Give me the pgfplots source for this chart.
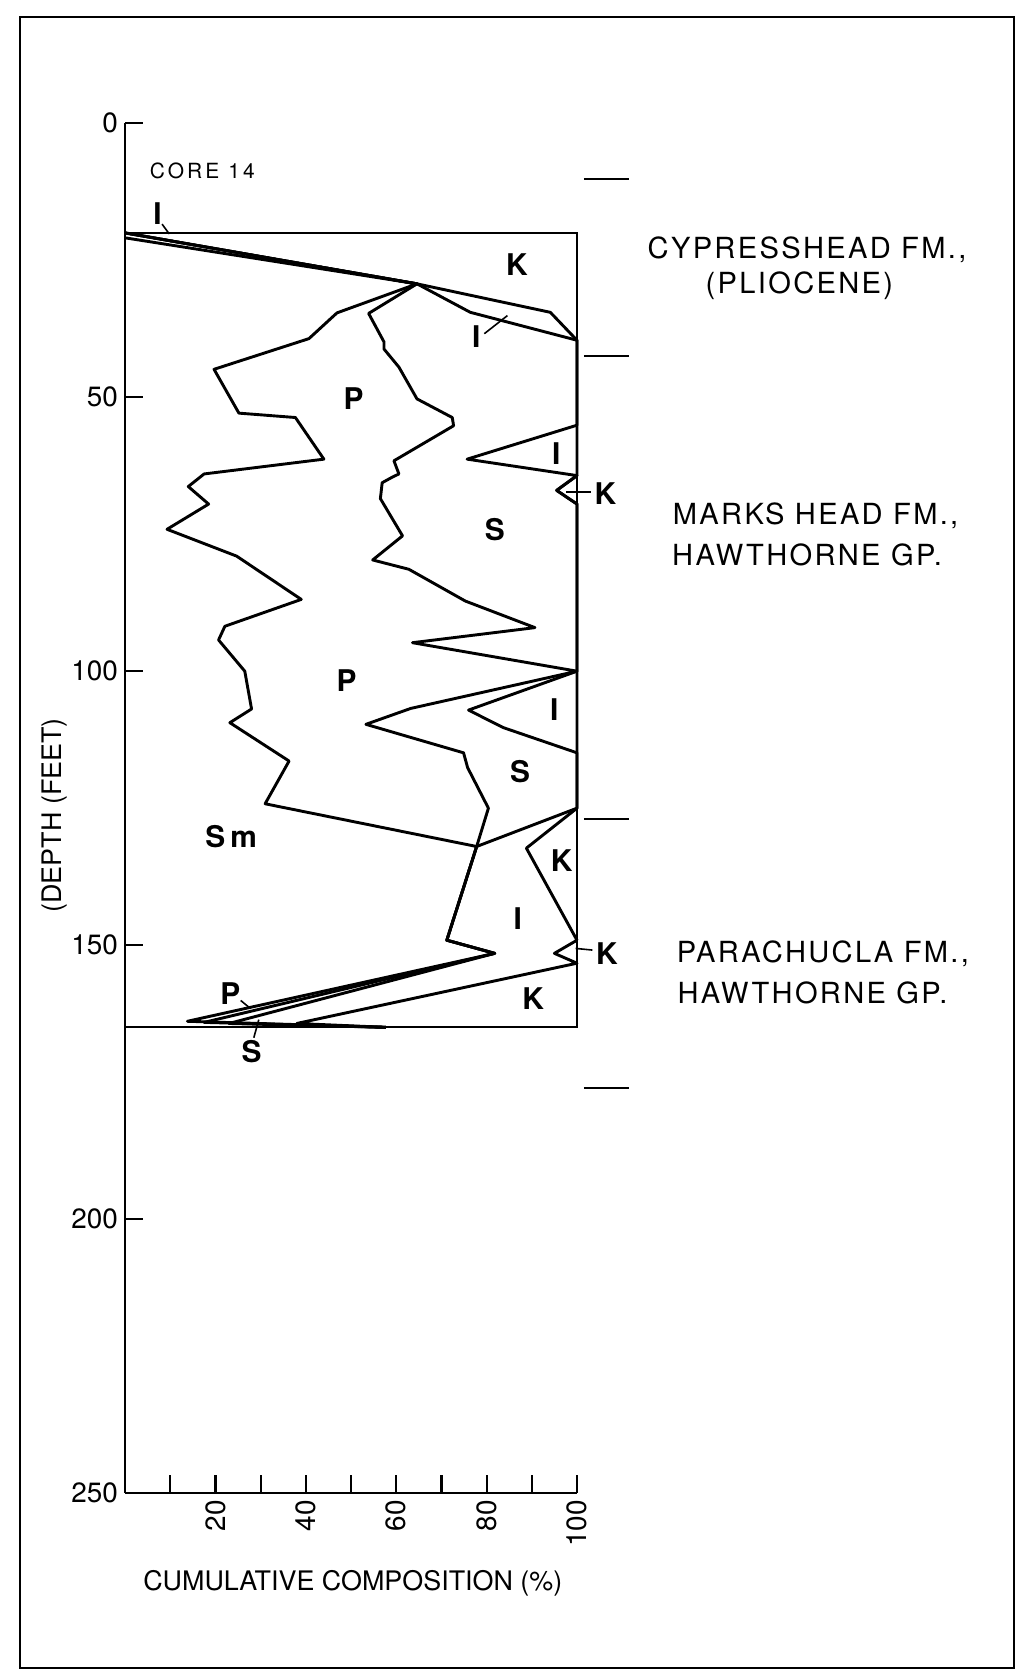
\documentclass[border=0pt]{standalone}
\usepackage{fontspec}
\setmainfont{TeX Gyre Heros}
\usepackage{pgfplots}
\pgfplotsset{compat=1.18}
\begin{document}
\begin{tikzpicture}
\path[use as bounding box] (-62.5bp,-89.5bp) rectangle (446bp,746.5bp);
\draw[line width=1.2bp] (-52.5bp,-87.5bp) rectangle (444.5bp,738bp);
\begin{axis}[
  at={(0,0)}, anchor=south west,
  width=226bp, height=684.85bp, scale only axis,
  xmin=0, xmax=100, ymin=0, ymax=250, y dir=reverse,
  axis x line=bottom, axis y line=left,
  axis line style={-, line width=1.2bp},
  clip=false,
  tick align=inside,
  major tick length=9bp,
  tick style={line width=1.1bp, black},
  xtick={10,20,...,100},
  xticklabels={,20,,40,,60,,80,,100},
  ytick={0,50,...,250},
  /pgf/number format/assume math mode=true,
  ticklabel style={font=\fontsize{14}{16}\selectfont},
  xticklabel style={rotate=90, anchor=east},
  bnd/.style={black, line width=1.45bp, line join=round, mark=none},
  thin/.style={black, line width=1.1bp, mark=none},
]
% box
\addplot[thin] coordinates {(0,20) (100,20) (100,165) (0,165)};
% Sm | P boundary
\addplot[bnd] coordinates {(0,20) (64.6,29.3) (46.9,34.6) (40.7,39.3) (19.7,44.9) (25.2,52.9) (37.7,53.7) (44.0,61.3) (17.5,64.0) (14.0,66.3) (18.5,69.5) (9.3,74.1) (24.7,79.0) (39.0,86.9) (22.1,91.8) (20.7,94.3) (26.5,100.0) (28.0,106.9) (23.2,109.4) (36.3,116.4) (31.0,124.2) (77.8,132.0) (71.2,149.1) (81.8,151.5) (13.8,163.9) (57.7,165)};
% P | S boundary
\addplot[bnd] coordinates {(0,20) (64.6,29.3) (53.9,34.7) (57.3,39.9) (57.3,41.2) (60.6,44.5) (64.6,50.3) (72.4,53.7) (72.7,55.2) (59.5,61.6) (60.6,64.0) (59.1,64.6) (56.9,65.6) (56.5,68.5) (61.4,75.3) (54.8,79.7) (62.8,81.4) (75.3,87.2) (90.7,92.05) (63.6,94.8) (100,100) (63.2,106.8) (53.3,109.7) (74.9,114.9) (75.8,117.6) (80.4,125.0) (77.8,132.0) (71.2,149.1) (81.8,151.5) (17.5,164.1) (57.7,165)};
% S | I boundary
\addplot[bnd] coordinates {(0,20.9) (64.6,29.3) (76.4,34.5) (100,39.6) (100,55.1) (75.7,61.3) (100,64.3) (95.5,67.0) (100,69.5) (100,100) (76.0,107.1) (83.7,110.3) (100,114.9) (100,125.0) (77.8,132.0) (71.2,149.1) (81.8,151.5) (23.0,164.3) (57.7,165)};
% I | K boundary
\addplot[bnd] coordinates {(0,20) (64.6,29.3) (94.1,34.5) (100,39.6) (100,64.3) (95.5,67.0) (100,69.5) (100,125.0) (88.8,132.3) (100,149.1) (95.0,151.5) (100,153.3) (38.0,164.3) (57.7,165)};
% formation boundary marks
\addplot[thin] coordinates {(101.5,10.2) (111.5,10.2)};
\addplot[thin] coordinates {(101.5,42.4) (111.5,42.4)};
\addplot[thin] coordinates {(101.5,127.0) (111.5,127.0)};
\addplot[thin] coordinates {(101.5,176.1) (111.5,176.1)};
% leaders
\draw[line width=0.8bp] (axis cs:8.2,18.4) -- (axis cs:9.8,20.2);
\draw[line width=0.8bp] (axis cs:79.5,38.4) -- (axis cs:84.6,35.1);
\draw[line width=0.8bp] (axis cs:97.6,67.3) -- (axis cs:103.2,67.3);
\draw[line width=0.8bp] (axis cs:99.7,150.6) -- (axis cs:103.4,150.9);
\draw[line width=0.8bp] (axis cs:25.6,160.1) -- (axis cs:27.8,161.6);
\draw[line width=0.8bp] (axis cs:28.5,166.9) -- (axis cs:29.6,163.6);
% labels in plot
\begin{scope}[every node/.style={font=\bfseries\fontsize{15}{17}\selectfont, inner sep=0pt}]
\node at (axis cs:7.2,16.5) {I};
\node at (axis cs:86.7,25.8) {K};
\node at (axis cs:77.7,39.0) {I};
\node at (axis cs:50.6,50.2) {P};
\node at (axis cs:95.4,60.3) {I};
\node at (axis cs:106.3,67.5) {K};
\node at (axis cs:81.8,74.1) {S};
\node at (axis cs:49.0,101.8) {P};
\node at (axis cs:95.0,107.1) {I};
\node at (axis cs:87.4,118.4) {S};
\node at (axis cs:23.5,130.1) {S\,m};
\node at (axis cs:96.6,134.6) {K};
\node at (axis cs:86.9,145.1) {I};
\node at (axis cs:106.6,151.5) {K};
\node at (axis cs:90.3,159.7) {K};
\node at (axis cs:23.3,158.9) {P};
\node at (axis cs:28.0,169.5) {S};
\end{scope}
\node[font=\fontsize{10.5}{12}\selectfont\addfontfeature{LetterSpace=15}, inner sep=0pt] at (axis cs:17.1,8.6) {CORE 14};
\begin{scope}[every node/.style={font=\fontsize{14.6}{16}\selectfont\addfontfeature{LetterSpace=8}, inner sep=0pt}]
\node at (axis cs:150.9,23.1) {CYPRESSHEAD FM.,};
\node at (axis cs:149.2,29.7) {(PLIOCENE)};
\node at (axis cs:152.8,71.6) {MARKS HEAD FM.,};
\node at (axis cs:150.9,78.8) {HAWTHORNE GP.};
\node at (axis cs:154.4,151.5) {PARACHUCLA FM.,};
\node at (axis cs:152.1,158.7) {HAWTHORNE GP.};
\end{scope}
% axis titles
\node[font=\fontsize{13.5}{15}\selectfont, inner sep=0pt] at (axis cs:50.4,266.4) {CUMULATIVE COMPOSITION (\%)};
\node[font=\fontsize{13.5}{15}\selectfont, inner sep=0pt, rotate=90] at (axis cs:-15.5,126.3) {(DEPTH (FEET)};
\end{axis}
\end{tikzpicture}
\end{document}
